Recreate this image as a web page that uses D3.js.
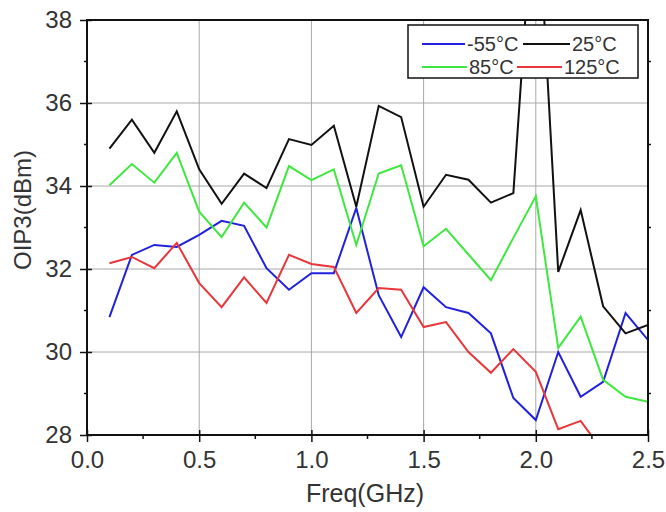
<!DOCTYPE html>
<html>
<head>
<meta charset="utf-8">
<script src="https://cdn.jsdelivr.net/npm/d3@7"></script>
<style>
  body { margin: 0; background: #fff; }
  text { font-family: "Liberation Sans", Arial, sans-serif; fill: #333; }
</style>
</head>
<body>
<div id="chart"></div>
<script>
// frequency points (GHz)
const freq = [0.1, 0.2, 0.3, 0.4, 0.5, 0.6, 0.7, 0.8, 0.9, 1.0, 1.1, 1.2, 1.3,
              1.4, 1.5, 1.6, 1.7, 1.8, 1.9, 2.0, 2.1, 2.2, 2.3, 2.4, 2.5];

// OIP3 (dBm) per temperature
const m55 = [30.84, 32.34, 32.58, 32.53, 32.82, 33.16, 33.04, 32.02, 31.5, 31.9, 31.9, 33.47, 31.37,
             30.36, 31.56, 31.08, 30.94, 30.45, 28.89, 28.36, 30.0, 28.92, 29.28, 30.94, 30.29];
const p25 = [34.9, 35.6, 34.8, 35.8, 34.4, 33.57, 34.3, 33.95, 35.13, 34.99, 35.45, 33.5, 35.93,
             35.66, 33.5, 34.27, 34.15, 33.6, 33.83, 41.7, 31.93, 33.42, 31.1, 30.45, 30.65];
const p85 = [34.02, 34.53, 34.08, 34.8, 33.38, 32.77, 33.6, 33.0, 34.48, 34.14, 34.4, 32.58, 34.3,
             34.5, 32.55, 32.97, 32.35, 31.73, 32.75, 33.75, 30.1, 30.85, 29.33, 28.92, 28.8];
const p125 = [32.14, 32.29, 32.02, 32.63, 31.66, 31.08, 31.8, 31.18, 32.34, 32.12, 32.05, 30.94, 31.54,
              31.5, 30.6, 30.72, 30.0, 29.5, 30.07, 29.52, 28.14, 28.34, 27.6];

const xTicks = [0.0, 0.5, 1.0, 1.5, 2.0, 2.5];
const yTicks = [28, 30, 32, 34, 36, 38];

const series = [
    {name: "-55°C", values: m55, color: "#2020dd"},
    {name: "25°C", values: p25, color: "#111111"},
    {name: "85°C", values: p85, color: "#3ee83e"},
    {name: "125°C", values: p125, color: "#e8363a"}
];

const width = 666, height = 512;
const margin = {top: 20, right: 18, bottom: 77, left: 87};

const svg = d3.select("#chart").append("svg")
    .attr("width", width)
    .attr("height", height);

const x = d3.scaleLinear().domain([0, 2.5]).range([margin.left, width - margin.right]);
const y = d3.scaleLinear().domain([28, 38]).range([height - margin.bottom, margin.top]);

// grid
svg.append("g")
    .selectAll("line.gx")
    .data(xTicks.slice(1, -1))
    .join("line")
    .attr("x1", d => x(d)).attr("x2", d => x(d))
    .attr("y1", y(28)).attr("y2", y(38))
    .attr("stroke", "#a8a8a8").attr("stroke-width", 1);

svg.append("g")
    .selectAll("line.gy")
    .data(yTicks.slice(1, -1))
    .join("line")
    .attr("x1", x(0)).attr("x2", x(2.5))
    .attr("y1", d => y(d)).attr("y2", d => y(d))
    .attr("stroke", "#a8a8a8").attr("stroke-width", 1);

// clip for the lines
svg.append("clipPath").attr("id", "clip")
    .append("rect")
    .attr("x", x(0)).attr("y", y(38))
    .attr("width", x(2.5) - x(0)).attr("height", y(28) - y(38));

const line = d3.line()
    .x((d, i) => x(freq[i]))
    .y(d => y(d));

svg.append("g")
    .attr("clip-path", "url(#clip)")
    .selectAll("path")
    .data(series)
    .join("path")
    .attr("d", d => line(d.values))
    .attr("fill", "none")
    .attr("stroke", d => d.color)
    .attr("stroke-width", 2)
    .attr("stroke-linejoin", "miter");

// axes
const xAxis = svg.append("g")
    .attr("transform", `translate(0, ${y(28)})`)
    .call(d3.axisBottom(x).tickValues(xTicks).tickFormat(d3.format(".1f")).tickSize(7).tickPadding(9));
const yAxis = svg.append("g")
    .attr("transform", `translate(${x(0)}, 0)`)
    .call(d3.axisLeft(y).tickValues(yTicks).tickSize(7).tickPadding(8));

[xAxis, yAxis].forEach(a => {
    a.select(".domain").remove();
    a.selectAll("line").attr("stroke", "#111").attr("stroke-width", 1.5);
    a.selectAll("text").style("font-size", "24px").attr("fill", "#333");
});
// major ticks cross the axis
xAxis.selectAll(".tick line").attr("y1", -5);
yAxis.selectAll(".tick line").attr("x1", 5);

// minor ticks
const xMinor = [0.25, 0.75, 1.25, 1.75, 2.25];
const yMinor = [29, 31, 33, 35, 37];
svg.append("g").selectAll("line")
    .data(xMinor).join("line")
    .attr("x1", d => x(d)).attr("x2", d => x(d))
    .attr("y1", y(28)).attr("y2", y(28) + 4)
    .attr("stroke", "#111").attr("stroke-width", 1.5);
svg.append("g").selectAll("line")
    .data(yMinor).join("line")
    .attr("x1", x(0) - 3).attr("x2", x(0))
    .attr("y1", d => y(d)).attr("y2", d => y(d))
    .attr("stroke", "#111").attr("stroke-width", 1.5);
svg.append("g").selectAll("line")
    .data(yMinor).join("line")
    .attr("x1", x(2.5)).attr("x2", x(2.5) + 3)
    .attr("y1", d => y(d)).attr("y2", d => y(d))
    .attr("stroke", "#111").attr("stroke-width", 1.5);

// frame
svg.append("rect")
    .attr("x", x(0)).attr("y", y(38))
    .attr("width", x(2.5) - x(0)).attr("height", y(28) - y(38))
    .attr("fill", "none").attr("stroke", "#111").attr("stroke-width", 2);

// axis titles
svg.append("text")
    .attr("x", 365).attr("y", 502)
    .attr("text-anchor", "middle")
    .style("font-size", "25px")
    .text("Freq(GHz)");

svg.append("text")
    .attr("transform", `translate(31, 210) rotate(-90)`)
    .attr("text-anchor", "middle")
    .style("font-size", "24px")
    .text("OIP3(dBm)");

// legend
const legend = svg.append("g");
legend.append("rect")
    .attr("x", 408).attr("y", 25)
    .attr("width", 230).attr("height", 53)
    .attr("fill", "#fff").attr("stroke", "#111").attr("stroke-width", 1.5);

const legendPos = [
    {lx: 422, ly: 44, len: 43},
    {lx: 523, ly: 44, len: 47},
    {lx: 422, ly: 67, len: 45},
    {lx: 517, ly: 67, len: 45}
];
series.forEach((s, i) => {
    const p = legendPos[i];
    legend.append("line")
        .attr("x1", p.lx).attr("x2", p.lx + p.len)
        .attr("y1", p.ly).attr("y2", p.ly)
        .attr("stroke", s.color).attr("stroke-width", 2);
    legend.append("text")
        .attr("x", p.lx + p.len + 2).attr("y", p.ly + 7)
        .style("font-size", "20px")
        .text(s.name);
});
</script>
</body>
</html>
